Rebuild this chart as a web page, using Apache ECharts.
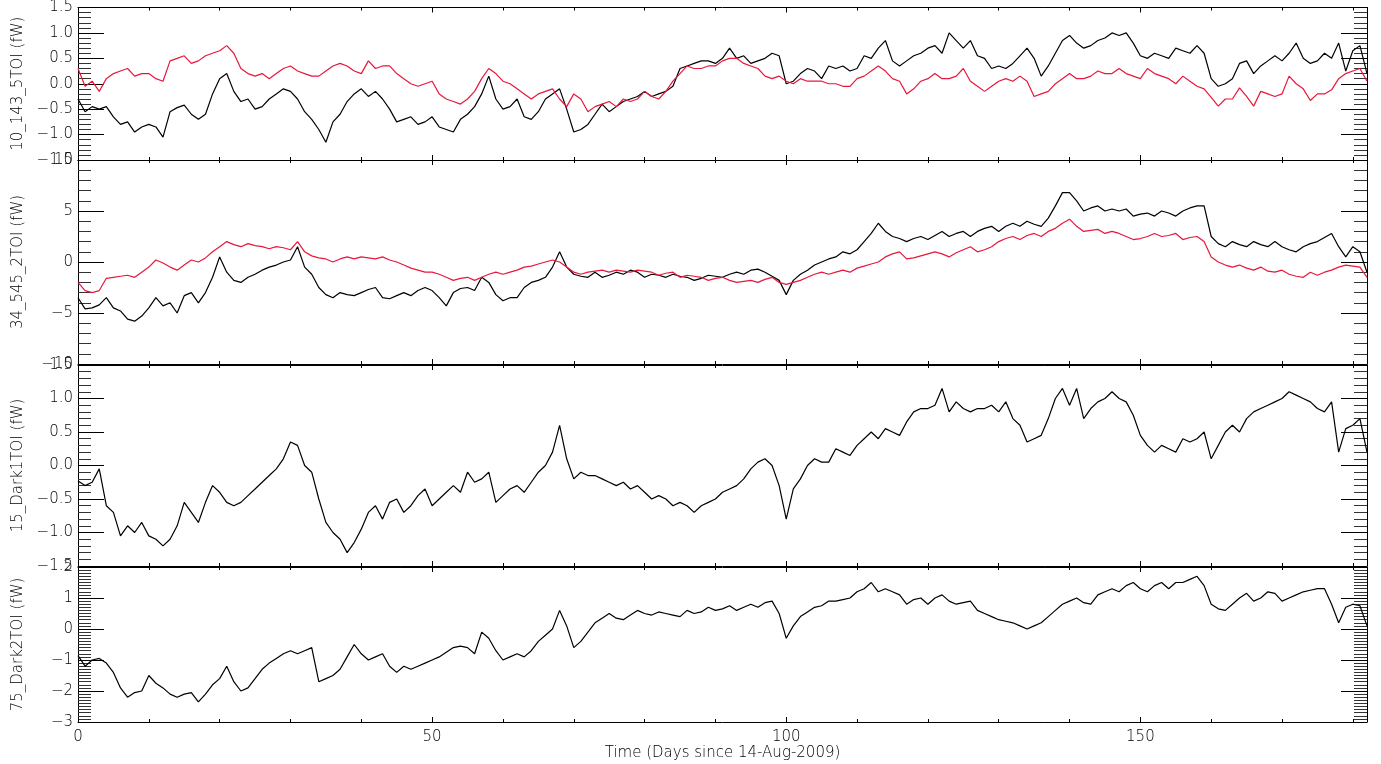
<!DOCTYPE html>
<html><head><meta charset="utf-8">
<script src="https://cdn.jsdelivr.net/npm/echarts@6/dist/echarts.min.js"></script>
<style>html,body{margin:0;padding:0;background:#fff}#c{width:1381px;height:764px}</style>
</head><body><div id="c"></div>
<script>
// Sampling grid: one value per day, day 0 .. 182
const dayStart = 0, dayEnd = 182;
const xTickLabels = ['0', '50', '100', '150'];
const xTitle = 'Time (Days since 14-Aug-2009)';
const yTitles = ['10_143_5TOI (fW)', '34_545_2TOI (fW)', '15_Dark1TOI (fW)', '75_Dark2TOI (fW)'];

const b1 = [-0.3,-0.55,-0.45,-0.5,-0.45,-0.65,-0.8,-0.75,-0.95,-0.85,-0.8,-0.85,-1.05,-0.55,-0.47,-0.42,-0.6,-0.7,-0.6,-0.2,
0.1,0.2,-0.15,-0.35,-0.3,-0.5,-0.45,-0.3,-0.2,-0.1,-0.15,-0.3,-0.55,-0.7,-0.9,-1.15,-0.75,-0.6,-0.35,-0.2,
-0.1,-0.25,-0.15,-0.3,-0.5,-0.75,-0.7,-0.65,-0.8,-0.75,-0.65,-0.85,-0.9,-0.95,-0.7,-0.6,-0.45,-0.2,0.15,-0.3,
-0.5,-0.45,-0.3,-0.65,-0.7,-0.55,-0.3,-0.2,-0.1,-0.5,-0.95,-0.9,-0.8,-0.6,-0.4,-0.55,-0.45,-0.35,-0.3,-0.25,
-0.15,-0.25,-0.2,-0.15,-0.05,0.3,0.35,0.4,0.45,0.45,0.4,0.5,0.7,0.5,0.55,0.4,0.45,0.5,0.6,0.55,
0.0,0.05,0.2,0.3,0.25,0.1,0.35,0.3,0.35,0.25,0.3,0.55,0.5,0.7,0.85,0.45,0.35,0.45,0.55,0.6,
0.7,0.75,0.6,1.0,0.85,0.7,0.85,0.55,0.5,0.3,0.35,0.3,0.4,0.55,0.7,0.5,0.15,0.35,0.6,0.85,
0.95,0.8,0.7,0.75,0.85,0.9,1.0,0.95,1.0,0.8,0.55,0.5,0.6,0.55,0.5,0.7,0.65,0.6,0.75,0.6,
0.1,-0.05,0.0,0.1,0.4,0.45,0.2,0.35,0.45,0.55,0.45,0.6,0.8,0.5,0.4,0.45,0.6,0.5,0.8,0.25,
0.65,0.75,0.2];
const r1 = [0.3,-0.05,0.05,-0.15,0.1,0.2,0.25,0.3,0.15,0.2,0.2,0.1,0.05,0.45,0.5,0.55,0.4,0.45,0.55,0.6,
0.65,0.75,0.6,0.3,0.2,0.15,0.2,0.1,0.2,0.3,0.35,0.25,0.2,0.15,0.15,0.25,0.35,0.4,0.35,0.25,
0.2,0.45,0.3,0.35,0.35,0.2,0.1,0.0,-0.05,0.0,0.05,-0.2,-0.3,-0.35,-0.4,-0.3,-0.15,0.1,0.3,0.2,
0.05,0.0,-0.1,-0.2,-0.3,-0.2,-0.15,-0.1,-0.3,-0.45,-0.2,-0.3,-0.55,-0.45,-0.4,-0.35,-0.45,-0.3,-0.35,-0.3,
-0.15,-0.25,-0.3,-0.15,0.05,0.2,0.35,0.3,0.3,0.35,0.35,0.45,0.5,0.5,0.4,0.35,0.3,0.15,0.1,0.15,
0.05,0.0,0.1,0.05,0.05,0.05,0.0,0.0,-0.05,-0.05,0.1,0.15,0.25,0.35,0.25,0.1,0.05,-0.2,-0.1,0.05,
0.1,0.2,0.1,0.1,0.15,0.3,0.05,-0.05,-0.15,-0.05,0.05,0.1,0.05,0.15,0.05,-0.25,-0.2,-0.15,0.0,0.1,
0.2,0.1,0.1,0.15,0.25,0.2,0.2,0.3,0.2,0.15,0.1,0.3,0.2,0.15,0.1,0.0,0.15,0.05,-0.05,-0.1,
-0.27,-0.44,-0.3,-0.3,-0.08,-0.25,-0.44,-0.15,-0.2,-0.25,-0.2,0.15,0.0,-0.1,-0.33,-0.2,-0.2,-0.12,0.1,0.2,
0.25,0.3,0.05];
const b2 = [-3.5,-4.6,-4.5,-4.2,-3.5,-4.5,-4.8,-5.6,-5.8,-5.3,-4.5,-3.5,-4.3,-4.0,-5.0,-3.3,-3.0,-4.0,-3.0,-1.5,
0.5,-1.0,-1.8,-2.0,-1.5,-1.2,-0.8,-0.5,-0.3,0.0,0.2,1.5,-0.5,-1.2,-2.5,-3.2,-3.5,-3.0,-3.2,-3.3,
-3.0,-2.7,-2.5,-3.5,-3.6,-3.3,-3.0,-3.3,-2.8,-2.5,-2.8,-3.5,-4.3,-3.0,-2.6,-2.5,-2.8,-1.5,-2.0,-3.2,
-3.8,-3.5,-3.5,-2.5,-2.0,-1.8,-1.5,-0.5,1.0,-0.5,-1.2,-1.4,-1.5,-1.0,-1.5,-1.3,-1.0,-1.2,-0.8,-1.0,
-1.5,-1.2,-1.3,-1.5,-1.2,-1.4,-1.5,-1.8,-1.6,-1.3,-1.4,-1.5,-1.2,-1.0,-1.2,-0.8,-0.7,-1.0,-1.4,-1.8,
-3.2,-1.8,-1.2,-0.8,-0.3,0.0,0.3,0.5,1.0,0.8,1.2,2.0,2.8,3.8,3.0,2.5,2.3,2.0,2.3,2.5,
2.2,2.6,3.0,2.5,2.8,3.0,2.5,3.0,3.3,3.5,3.0,3.5,3.8,3.5,4.0,3.7,3.5,4.3,5.5,6.8,
6.8,6.0,5.0,5.3,5.5,5.0,5.2,5.0,5.2,4.5,4.7,4.8,4.5,5.0,4.8,4.5,5.0,5.3,5.5,5.5,
2.5,1.8,1.5,2.0,1.7,1.5,2.0,1.7,1.5,2.0,1.5,1.2,1.0,1.5,1.8,2.0,2.4,2.8,1.5,0.5,
1.5,1.0,-1.0];
const r2 = [-2.0,-2.8,-3.0,-2.8,-1.6,-1.5,-1.4,-1.3,-1.5,-1.0,-0.5,0.2,-0.1,-0.5,-0.8,-0.3,0.2,0.0,0.4,1.0,
1.5,2.0,1.7,1.5,1.8,1.6,1.5,1.3,1.5,1.4,1.2,2.0,1.0,0.6,0.4,0.3,0.0,0.3,0.5,0.3,
0.5,0.4,0.3,0.5,0.2,0.0,-0.3,-0.6,-0.8,-1.0,-1.0,-1.2,-1.5,-1.8,-1.6,-1.5,-1.8,-1.5,-1.2,-1.0,
-1.2,-1.0,-0.8,-0.5,-0.4,-0.2,0.0,0.2,0.0,-0.5,-1.0,-1.2,-1.0,-0.9,-0.8,-1.0,-0.8,-0.9,-1.0,-0.8,
-0.9,-1.0,-1.3,-1.1,-1.0,-1.5,-1.3,-1.4,-1.5,-1.8,-1.6,-1.5,-1.8,-2.0,-1.9,-1.8,-2.0,-1.7,-1.5,-2.0,
-2.2,-2.0,-1.8,-1.5,-1.2,-1.0,-1.2,-1.0,-0.8,-1.0,-0.6,-0.4,-0.2,0.0,0.5,0.8,1.0,0.3,0.4,0.6,
0.8,1.0,0.8,0.5,0.9,1.2,1.5,1.0,1.2,1.5,2.0,2.3,2.5,2.2,2.6,2.8,2.5,3.0,3.3,3.8,
4.2,3.5,3.0,3.1,3.2,2.8,3.0,2.8,2.5,2.2,2.3,2.5,2.8,2.5,2.6,2.8,2.2,2.4,2.5,2.0,
0.5,0.0,-0.3,-0.5,-0.3,-0.6,-0.8,-0.5,-0.9,-1.0,-0.8,-1.2,-1.4,-1.5,-1.0,-1.3,-1.0,-0.8,-0.5,-0.3,
-0.4,-0.5,-1.5];
const b3 = [-0.23,-0.3,-0.25,-0.05,-0.6,-0.7,-1.05,-0.9,-1.0,-0.85,-1.05,-1.1,-1.2,-1.1,-0.9,-0.55,-0.7,-0.85,-0.55,-0.3,
-0.4,-0.55,-0.6,-0.55,-0.45,-0.35,-0.25,-0.15,-0.05,0.1,0.35,0.3,0.0,-0.1,-0.5,-0.85,-1.0,-1.1,-1.3,-1.15,
-0.95,-0.7,-0.6,-0.8,-0.55,-0.5,-0.7,-0.6,-0.45,-0.35,-0.6,-0.5,-0.4,-0.3,-0.4,-0.1,-0.25,-0.2,-0.1,-0.55,
-0.45,-0.35,-0.3,-0.4,-0.25,-0.1,0.0,0.2,0.6,0.1,-0.2,-0.1,-0.15,-0.15,-0.2,-0.25,-0.3,-0.25,-0.35,-0.3,
-0.4,-0.5,-0.45,-0.5,-0.6,-0.55,-0.6,-0.7,-0.6,-0.55,-0.5,-0.4,-0.35,-0.3,-0.2,-0.05,0.05,0.1,0.0,-0.3,
-0.8,-0.35,-0.2,0.0,0.1,0.05,0.05,0.25,0.2,0.15,0.3,0.4,0.5,0.4,0.55,0.5,0.45,0.65,0.8,0.85,
0.85,0.9,1.15,0.8,0.95,0.85,0.8,0.85,0.85,0.9,0.8,0.95,0.7,0.6,0.35,0.4,0.45,0.7,1.0,1.15,
0.9,1.15,0.7,0.85,0.95,1.0,1.1,1.0,0.95,0.75,0.45,0.3,0.2,0.3,0.25,0.2,0.4,0.35,0.4,0.5,
0.1,0.3,0.5,0.6,0.5,0.7,0.8,0.85,0.9,0.95,1.0,1.1,1.05,1.0,0.95,0.85,0.8,0.95,0.2,0.55,
0.6,0.7,0.2];
const b4 = [-0.86,-1.2,-1.0,-0.95,-1.1,-1.4,-1.9,-2.2,-2.05,-2.0,-1.5,-1.75,-1.9,-2.1,-2.2,-2.1,-2.05,-2.35,-2.1,-1.8,
-1.6,-1.2,-1.7,-2.0,-1.9,-1.6,-1.3,-1.1,-0.95,-0.8,-0.7,-0.8,-0.7,-0.6,-1.7,-1.6,-1.5,-1.3,-0.9,-0.5,
-0.8,-1.0,-0.9,-0.8,-1.2,-1.4,-1.2,-1.3,-1.2,-1.1,-1.0,-0.9,-0.75,-0.6,-0.55,-0.6,-0.8,-0.1,-0.3,-0.7,
-1.0,-0.9,-0.8,-0.9,-0.7,-0.4,-0.2,0.0,0.6,0.1,-0.6,-0.4,-0.1,0.2,0.35,0.5,0.35,0.3,0.45,0.6,
0.5,0.45,0.55,0.5,0.45,0.4,0.6,0.5,0.55,0.7,0.6,0.65,0.75,0.6,0.7,0.8,0.7,0.85,0.9,0.5,
-0.3,0.1,0.4,0.55,0.7,0.75,0.9,0.9,0.95,1.0,1.2,1.3,1.5,1.2,1.3,1.2,1.1,0.8,0.95,1.0,
0.8,1.0,1.1,0.9,0.8,0.85,0.9,0.6,0.5,0.4,0.3,0.25,0.2,0.1,0.0,0.1,0.2,0.4,0.6,0.8,
0.9,1.0,0.85,0.8,1.1,1.2,1.3,1.2,1.4,1.5,1.3,1.2,1.4,1.5,1.3,1.5,1.5,1.6,1.7,1.4,
0.8,0.65,0.6,0.8,1.0,1.15,0.9,1.0,1.2,1.15,0.9,1.0,1.1,1.2,1.25,1.3,1.3,0.8,0.2,0.7,
0.8,0.75,0.1];

const panels = [
  {top: 5,   height: 155, min: -1.5, max: 1.5, interval: 0.5, minor: 5,  dec: 1, series: [b1, r1]},
  {top: 160, height: 204, min: -10,  max: 10,  interval: 5,   minor: 5,  dec: 0, series: [b2, r2]},
  {top: 365, height: 201, min: -1.5, max: 1.5, interval: 0.5, minor: 5,  dec: 1, series: [b3]},
  {top: 567, height: 155, min: -3,   max: 2,   interval: 1,   minor: 10, dec: 0, series: [b4]}
];
const colors = ['#000000', '#e8173c'];
const FONT = 'DejaVu Sans';
const TXT = '#000';
const AX = '#000';

function pairs(arr) { return arr.map((v, i) => [dayStart + i, v]); }
function fmtY(dec) {
  return v => {
    const s = Math.abs(v).toFixed(dec);
    return (v < 0 ? '\u2212' : '') + s;
  };
}

const grids = [], xAxes = [], yAxes = [], series = [];
panels.forEach((p, gi) => {
  grids.push({left: 78, right: 14, top: p.top, height: p.height, containLabel: false});
  const last = gi === panels.length - 1;
  ['bottom', 'top'].forEach(pos => {
    const maj = {
      gridIndex: gi, type: 'value', position: pos, min: dayStart, max: dayEnd, interval: 50,
      axisLine: {show: true, onZero: false, lineStyle: {color: AX, width: 1}},
      axisTick: {show: true, inside: true, length: 5, lineStyle: {color: AX}},
      splitLine: {show: false},
      axisLabel: {show: last && pos === 'bottom', showMaxLabel: false, margin: 8,
        color: TXT, fontFamily: FONT, fontWeight: 200, fontSize: 15,
        formatter: v => xTickLabels[Math.round(v / 50)] || ''}
    };
    if (last && pos === 'bottom') {
      maj.name = xTitle; maj.nameLocation = 'middle'; maj.nameGap = 24;
      maj.nameTextStyle = {color: TXT, fontFamily: FONT, fontWeight: 200, fontSize: 15};
    }
    xAxes.push(maj);
    xAxes.push({
      gridIndex: gi, type: 'value', position: pos, min: dayStart, max: dayEnd, interval: 10,
      axisLine: {show: false, onZero: false},
      axisTick: {show: true, inside: true, length: 3, lineStyle: {color: AX}},
      splitLine: {show: false}, axisLabel: {show: false}
    });
  });
  ['left', 'right'].forEach(pos => {
    const y = {
      gridIndex: gi, type: 'value', position: pos, min: p.min, max: p.max, interval: p.interval,
      axisLine: {show: true, onZero: false, lineStyle: {color: AX, width: 1}},
      axisTick: {show: true, inside: true, length: 26, lineStyle: {color: AX}},
      minorTick: {show: true, splitNumber: p.minor, length: 13, lineStyle: {color: '#333'}},
      splitLine: {show: false},
      axisLabel: {show: pos === 'left', margin: 5, color: TXT, fontFamily: FONT, fontWeight: 200, fontSize: 15,
        formatter: fmtY(p.dec)}
    };
    if (pos === 'left') {
      y.name = yTitles[gi]; y.nameLocation = 'middle'; y.nameGap = 52;
      y.nameTextStyle = {color: TXT, fontFamily: FONT, fontWeight: 200, fontSize: 15};
    }
    yAxes.push(y);
  });
  p.series.forEach((arr, si) => {
    series.push({
      type: 'line', xAxisIndex: gi * 4, yAxisIndex: gi * 2, data: pairs(arr),
      showSymbol: false, symbol: 'none', smooth: false, animation: false,
      lineStyle: {color: colors[si], width: 1.2}, z: 2 + si
    });
  });
});

const chart = echarts.init(document.getElementById('c'), null, {renderer: 'canvas'});
chart.setOption({backgroundColor: '#fff', animation: false, grid: grids, xAxis: xAxes, yAxis: yAxes, series: series});
</script></body></html>
